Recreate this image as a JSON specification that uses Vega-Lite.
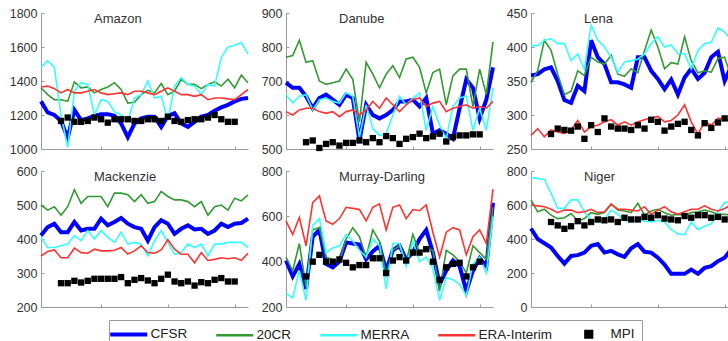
{
"$schema": "https://vega.github.io/schema/vega-lite/v6.json",
"padding": {"left": 9, "top": 7, "right": 0, "bottom": 0},
"background": "white",
"datasets": {"d": [
{"b":"Amazon","t":1981,"CFSR":1280,"20CR":1360,"MERRA":1480,"ERA-Interim":1365},
{"b":"Amazon","t":1982,"CFSR":1215,"20CR":1320,"MERRA":1520,"ERA-Interim":1370},
{"b":"Amazon","t":1983,"CFSR":1200,"20CR":1290,"MERRA":1480,"ERA-Interim":1355},
{"b":"Amazon","t":1984,"CFSR":1165,"20CR":1290,"MERRA":1200,"ERA-Interim":1330,"MPI":1165},
{"b":"Amazon","t":1985,"CFSR":1065,"20CR":1280,"MERRA":1010,"ERA-Interim":1350,"MPI":1185},
{"b":"Amazon","t":1986,"CFSR":1230,"20CR":1395,"MERRA":1340,"ERA-Interim":1330,"MPI":1160},
{"b":"Amazon","t":1987,"CFSR":1170,"20CR":1360,"MERRA":1390,"ERA-Interim":1330,"MPI":1160},
{"b":"Amazon","t":1988,"CFSR":1180,"20CR":1365,"MERRA":1380,"ERA-Interim":1340,"MPI":1165},
{"b":"Amazon","t":1989,"CFSR":1195,"20CR":1330,"MERRA":1200,"ERA-Interim":1350,"MPI":1185},
{"b":"Amazon","t":1990,"CFSR":1205,"20CR":1350,"MERRA":1290,"ERA-Interim":1330,"MPI":1175},
{"b":"Amazon","t":1991,"CFSR":1205,"20CR":1365,"MERRA":1280,"ERA-Interim":1320,"MPI":1155},
{"b":"Amazon","t":1992,"CFSR":1195,"20CR":1390,"MERRA":1220,"ERA-Interim":1325,"MPI":1175},
{"b":"Amazon","t":1993,"CFSR":1150,"20CR":1350,"MERRA":1200,"ERA-Interim":1330,"MPI":1175},
{"b":"Amazon","t":1994,"CFSR":1070,"20CR":1270,"MERRA":1160,"ERA-Interim":1320,"MPI":1175},
{"b":"Amazon","t":1995,"CFSR":1150,"20CR":1275,"MERRA":1300,"ERA-Interim":1340,"MPI":1165},
{"b":"Amazon","t":1996,"CFSR":1180,"20CR":1320,"MERRA":1320,"ERA-Interim":1340,"MPI":1165},
{"b":"Amazon","t":1997,"CFSR":1190,"20CR":1345,"MERRA":1400,"ERA-Interim":1330,"MPI":1175},
{"b":"Amazon","t":1998,"CFSR":1190,"20CR":1330,"MERRA":1300,"ERA-Interim":1320,"MPI":1175},
{"b":"Amazon","t":1999,"CFSR":1130,"20CR":1385,"MERRA":1310,"ERA-Interim":1340,"MPI":1165},
{"b":"Amazon","t":2000,"CFSR":1195,"20CR":1320,"MERRA":1170,"ERA-Interim":1360,"MPI":1190},
{"b":"Amazon","t":2001,"CFSR":1210,"20CR":1340,"MERRA":1370,"ERA-Interim":1340,"MPI":1165},
{"b":"Amazon","t":2002,"CFSR":1150,"20CR":1410,"MERRA":1420,"ERA-Interim":1320,"MPI":1160},
{"b":"Amazon","t":2003,"CFSR":1130,"20CR":1380,"MERRA":1380,"ERA-Interim":1320,"MPI":1170},
{"b":"Amazon","t":2004,"CFSR":1160,"20CR":1380,"MERRA":1370,"ERA-Interim":1310,"MPI":1175},
{"b":"Amazon","t":2005,"CFSR":1190,"20CR":1355,"MERRA":1320,"ERA-Interim":1320,"MPI":1175},
{"b":"Amazon","t":2006,"CFSR":1200,"20CR":1380,"MERRA":1380,"ERA-Interim":1290,"MPI":1185},
{"b":"Amazon","t":2007,"CFSR":1225,"20CR":1395,"MERRA":1370,"ERA-Interim":1300,"MPI":1200},
{"b":"Amazon","t":2008,"CFSR":1245,"20CR":1370,"MERRA":1540,"ERA-Interim":1300,"MPI":1175},
{"b":"Amazon","t":2009,"CFSR":1260,"20CR":1410,"MERRA":1600,"ERA-Interim":1295,"MPI":1160},
{"b":"Amazon","t":2010,"CFSR":1280,"20CR":1360,"MERRA":1610,"ERA-Interim":1290,"MPI":1160},
{"b":"Amazon","t":2011,"CFSR":1295,"20CR":1435,"MERRA":1625,"ERA-Interim":1320},
{"b":"Amazon","t":2012,"CFSR":1300,"20CR":1390,"MERRA":1560,"ERA-Interim":1350},
{"b":"Danube","t":1981,"CFSR":695,"20CR":770,"MERRA":660,"ERA-Interim":610},
{"b":"Danube","t":1982,"CFSR":680,"20CR":775,"MERRA":635,"ERA-Interim":600},
{"b":"Danube","t":1983,"CFSR":680,"20CR":820,"MERRA":655,"ERA-Interim":615},
{"b":"Danube","t":1984,"CFSR":655,"20CR":755,"MERRA":660,"ERA-Interim":620,"MPI":520},
{"b":"Danube","t":1985,"CFSR":620,"20CR":760,"MERRA":615,"ERA-Interim":620,"MPI":525},
{"b":"Danube","t":1986,"CFSR":650,"20CR":700,"MERRA":645,"ERA-Interim":610,"MPI":503},
{"b":"Danube","t":1987,"CFSR":660,"20CR":690,"MERRA":650,"ERA-Interim":605,"MPI":515},
{"b":"Danube","t":1988,"CFSR":645,"20CR":695,"MERRA":640,"ERA-Interim":610,"MPI":520},
{"b":"Danube","t":1989,"CFSR":630,"20CR":700,"MERRA":635,"ERA-Interim":595,"MPI":510},
{"b":"Danube","t":1990,"CFSR":660,"20CR":735,"MERRA":665,"ERA-Interim":610,"MPI":518},
{"b":"Danube","t":1991,"CFSR":650,"20CR":705,"MERRA":655,"ERA-Interim":615,"MPI":518},
{"b":"Danube","t":1992,"CFSR":525,"20CR":580,"MERRA":535,"ERA-Interim":600,"MPI":525},
{"b":"Danube","t":1993,"CFSR":630,"20CR":755,"MERRA":630,"ERA-Interim":615,"MPI":520},
{"b":"Danube","t":1994,"CFSR":600,"20CR":720,"MERRA":560,"ERA-Interim":640,"MPI":532},
{"b":"Danube","t":1995,"CFSR":590,"20CR":680,"MERRA":540,"ERA-Interim":620,"MPI":520},
{"b":"Danube","t":1996,"CFSR":600,"20CR":720,"MERRA":545,"ERA-Interim":650,"MPI":538},
{"b":"Danube","t":1997,"CFSR":615,"20CR":745,"MERRA":600,"ERA-Interim":630,"MPI":532},
{"b":"Danube","t":1998,"CFSR":640,"20CR":710,"MERRA":655,"ERA-Interim":610,"MPI":515},
{"b":"Danube","t":1999,"CFSR":640,"20CR":765,"MERRA":630,"ERA-Interim":630,"MPI":530},
{"b":"Danube","t":2000,"CFSR":645,"20CR":770,"MERRA":650,"ERA-Interim":645,"MPI":535},
{"b":"Danube","t":2001,"CFSR":625,"20CR":740,"MERRA":665,"ERA-Interim":650,"MPI":545},
{"b":"Danube","t":2002,"CFSR":650,"20CR":665,"MERRA":555,"ERA-Interim":625,"MPI":532},
{"b":"Danube","t":2003,"CFSR":545,"20CR":725,"MERRA":625,"ERA-Interim":635,"MPI":537},
{"b":"Danube","t":2004,"CFSR":555,"20CR":735,"MERRA":570,"ERA-Interim":640,"MPI":545},
{"b":"Danube","t":2005,"CFSR":545,"20CR":630,"MERRA":530,"ERA-Interim":610,"MPI":522},
{"b":"Danube","t":2006,"CFSR":530,"20CR":715,"MERRA":625,"ERA-Interim":620,"MPI":535},
{"b":"Danube","t":2007,"CFSR":620,"20CR":735,"MERRA":650,"ERA-Interim":625,"MPI":540},
{"b":"Danube","t":2008,"CFSR":705,"20CR":735,"MERRA":655,"ERA-Interim":630,"MPI":540},
{"b":"Danube","t":2009,"CFSR":680,"20CR":625,"MERRA":555,"ERA-Interim":620,"MPI":543},
{"b":"Danube","t":2010,"CFSR":590,"20CR":735,"MERRA":620,"ERA-Interim":625,"MPI":543},
{"b":"Danube","t":2011,"CFSR":645,"20CR":660,"MERRA":555,"ERA-Interim":620},
{"b":"Danube","t":2012,"CFSR":740,"20CR":815,"MERRA":680,"ERA-Interim":640},
{"b":"Lena","t":1981,"CFSR":358,"20CR":348,"MERRA":402,"ERA-Interim":270},
{"b":"Lena","t":1982,"CFSR":360,"20CR":365,"MERRA":402,"ERA-Interim":280},
{"b":"Lena","t":1983,"CFSR":367,"20CR":410,"MERRA":410,"ERA-Interim":268},
{"b":"Lena","t":1984,"CFSR":370,"20CR":395,"MERRA":412,"ERA-Interim":278,"MPI":272},
{"b":"Lena","t":1985,"CFSR":350,"20CR":360,"MERRA":405,"ERA-Interim":275,"MPI":280},
{"b":"Lena","t":1986,"CFSR":322,"20CR":330,"MERRA":405,"ERA-Interim":273,"MPI":278},
{"b":"Lena","t":1987,"CFSR":318,"20CR":335,"MERRA":380,"ERA-Interim":278,"MPI":277},
{"b":"Lena","t":1988,"CFSR":343,"20CR":365,"MERRA":390,"ERA-Interim":292,"MPI":283},
{"b":"Lena","t":1989,"CFSR":335,"20CR":358,"MERRA":367,"ERA-Interim":275,"MPI":265},
{"b":"Lena","t":1990,"CFSR":410,"20CR":385,"MERRA":432,"ERA-Interim":283,"MPI":285},
{"b":"Lena","t":1991,"CFSR":385,"20CR":378,"MERRA":410,"ERA-Interim":285,"MPI":275},
{"b":"Lena","t":1992,"CFSR":375,"20CR":375,"MERRA":400,"ERA-Interim":290,"MPI":295},
{"b":"Lena","t":1993,"CFSR":348,"20CR":388,"MERRA":385,"ERA-Interim":293,"MPI":283},
{"b":"Lena","t":1994,"CFSR":348,"20CR":360,"MERRA":363,"ERA-Interim":285,"MPI":280},
{"b":"Lena","t":1995,"CFSR":345,"20CR":357,"MERRA":378,"ERA-Interim":290,"MPI":280},
{"b":"Lena","t":1996,"CFSR":340,"20CR":368,"MERRA":380,"ERA-Interim":285,"MPI":278},
{"b":"Lena","t":1997,"CFSR":385,"20CR":362,"MERRA":382,"ERA-Interim":290,"MPI":285},
{"b":"Lena","t":1998,"CFSR":385,"20CR":395,"MERRA":390,"ERA-Interim":293,"MPI":280},
{"b":"Lena","t":1999,"CFSR":365,"20CR":425,"MERRA":405,"ERA-Interim":296,"MPI":293},
{"b":"Lena","t":2000,"CFSR":353,"20CR":400,"MERRA":415,"ERA-Interim":298,"MPI":290},
{"b":"Lena","t":2001,"CFSR":338,"20CR":368,"MERRA":400,"ERA-Interim":290,"MPI":277},
{"b":"Lena","t":2002,"CFSR":352,"20CR":377,"MERRA":403,"ERA-Interim":292,"MPI":283},
{"b":"Lena","t":2003,"CFSR":330,"20CR":375,"MERRA":390,"ERA-Interim":300,"MPI":287},
{"b":"Lena","t":2004,"CFSR":355,"20CR":415,"MERRA":390,"ERA-Interim":315,"MPI":290},
{"b":"Lena","t":2005,"CFSR":368,"20CR":380,"MERRA":368,"ERA-Interim":290,"MPI":278},
{"b":"Lena","t":2006,"CFSR":353,"20CR":362,"MERRA":395,"ERA-Interim":272,"MPI":270},
{"b":"Lena","t":2007,"CFSR":362,"20CR":365,"MERRA":405,"ERA-Interim":290,"MPI":288},
{"b":"Lena","t":2008,"CFSR":385,"20CR":363,"MERRA":407,"ERA-Interim":285,"MPI":281},
{"b":"Lena","t":2009,"CFSR":393,"20CR":383,"MERRA":428,"ERA-Interim":295,"MPI":289},
{"b":"Lena","t":2010,"CFSR":350,"20CR":385,"MERRA":422,"ERA-Interim":295,"MPI":295},
{"b":"Lena","t":2011,"CFSR":372,"20CR":355,"MERRA":410,"ERA-Interim":288},
{"b":"Lena","t":2012,"CFSR":370,"20CR":358,"MERRA":385,"ERA-Interim":293},
{"b":"Mackenzie","t":1981,"CFSR":410,"20CR":500,"MERRA":405,"ERA-Interim":350},
{"b":"Mackenzie","t":1982,"CFSR":435,"20CR":485,"MERRA":375,"ERA-Interim":363},
{"b":"Mackenzie","t":1983,"CFSR":445,"20CR":495,"MERRA":375,"ERA-Interim":368},
{"b":"Mackenzie","t":1984,"CFSR":420,"20CR":470,"MERRA":380,"ERA-Interim":345,"MPI":270},
{"b":"Mackenzie","t":1985,"CFSR":420,"20CR":495,"MERRA":385,"ERA-Interim":345,"MPI":270},
{"b":"Mackenzie","t":1986,"CFSR":450,"20CR":545,"MERRA":410,"ERA-Interim":373,"MPI":277},
{"b":"Mackenzie","t":1987,"CFSR":425,"20CR":505,"MERRA":395,"ERA-Interim":360,"MPI":272},
{"b":"Mackenzie","t":1988,"CFSR":430,"20CR":525,"MERRA":425,"ERA-Interim":358,"MPI":277},
{"b":"Mackenzie","t":1989,"CFSR":430,"20CR":525,"MERRA":400,"ERA-Interim":370,"MPI":283},
{"b":"Mackenzie","t":1990,"CFSR":460,"20CR":525,"MERRA":425,"ERA-Interim":365,"MPI":283},
{"b":"Mackenzie","t":1991,"CFSR":440,"20CR":495,"MERRA":405,"ERA-Interim":365,"MPI":283},
{"b":"Mackenzie","t":1992,"CFSR":450,"20CR":535,"MERRA":390,"ERA-Interim":367,"MPI":283},
{"b":"Mackenzie","t":1993,"CFSR":462,"20CR":535,"MERRA":420,"ERA-Interim":375,"MPI":288},
{"b":"Mackenzie","t":1994,"CFSR":445,"20CR":530,"MERRA":385,"ERA-Interim":356,"MPI":270},
{"b":"Mackenzie","t":1995,"CFSR":435,"20CR":510,"MERRA":390,"ERA-Interim":365,"MPI":280},
{"b":"Mackenzie","t":1996,"CFSR":430,"20CR":530,"MERRA":385,"ERA-Interim":380,"MPI":285},
{"b":"Mackenzie","t":1997,"CFSR":395,"20CR":505,"MERRA":350,"ERA-Interim":360,"MPI":278},
{"b":"Mackenzie","t":1998,"CFSR":435,"20CR":510,"MERRA":395,"ERA-Interim":358,"MPI":270},
{"b":"Mackenzie","t":1999,"CFSR":455,"20CR":540,"MERRA":425,"ERA-Interim":368,"MPI":283},
{"b":"Mackenzie","t":2000,"CFSR":445,"20CR":525,"MERRA":390,"ERA-Interim":398,"MPI":295},
{"b":"Mackenzie","t":2001,"CFSR":415,"20CR":515,"MERRA":355,"ERA-Interim":370,"MPI":275},
{"b":"Mackenzie","t":2002,"CFSR":430,"20CR":515,"MERRA":360,"ERA-Interim":355,"MPI":270},
{"b":"Mackenzie","t":2003,"CFSR":440,"20CR":510,"MERRA":385,"ERA-Interim":355,"MPI":275},
{"b":"Mackenzie","t":2004,"CFSR":428,"20CR":495,"MERRA":375,"ERA-Interim":330,"MPI":263},
{"b":"Mackenzie","t":2005,"CFSR":430,"20CR":510,"MERRA":385,"ERA-Interim":360,"MPI":273},
{"b":"Mackenzie","t":2006,"CFSR":415,"20CR":470,"MERRA":350,"ERA-Interim":337,"MPI":270},
{"b":"Mackenzie","t":2007,"CFSR":425,"20CR":495,"MERRA":385,"ERA-Interim":340,"MPI":280},
{"b":"Mackenzie","t":2008,"CFSR":445,"20CR":500,"MERRA":385,"ERA-Interim":345,"MPI":285},
{"b":"Mackenzie","t":2009,"CFSR":435,"20CR":485,"MERRA":390,"ERA-Interim":342,"MPI":275},
{"b":"Mackenzie","t":2010,"CFSR":445,"20CR":520,"MERRA":390,"ERA-Interim":345,"MPI":275},
{"b":"Mackenzie","t":2011,"CFSR":447,"20CR":512,"MERRA":390,"ERA-Interim":337},
{"b":"Mackenzie","t":2012,"CFSR":460,"20CR":530,"MERRA":375,"ERA-Interim":358},
{"b":"Murray-Darling","t":1981,"CFSR":405,"20CR":420,"MERRA":260,"ERA-Interim":580},
{"b":"Murray-Darling","t":1982,"CFSR":335,"20CR":360,"MERRA":240,"ERA-Interim":520},
{"b":"Murray-Darling","t":1983,"CFSR":390,"20CR":480,"MERRA":360,"ERA-Interim":595},
{"b":"Murray-Darling","t":1984,"CFSR":280,"20CR":290,"MERRA":230,"ERA-Interim":470,"MPI":335},
{"b":"Murray-Darling","t":1985,"CFSR":510,"20CR":540,"MERRA":560,"ERA-Interim":660,"MPI":400},
{"b":"Murray-Darling","t":1986,"CFSR":540,"20CR":550,"MERRA":590,"ERA-Interim":690,"MPI":430},
{"b":"Murray-Darling","t":1987,"CFSR":390,"20CR":420,"MERRA":440,"ERA-Interim":580,"MPI":400},
{"b":"Murray-Darling","t":1988,"CFSR":375,"20CR":410,"MERRA":460,"ERA-Interim":565,"MPI":400},
{"b":"Murray-Darling","t":1989,"CFSR":400,"20CR":400,"MERRA":470,"ERA-Interim":590,"MPI":410},
{"b":"Murray-Darling","t":1990,"CFSR":485,"20CR":500,"MERRA":520,"ERA-Interim":640,"MPI":395},
{"b":"Murray-Darling","t":1991,"CFSR":480,"20CR":550,"MERRA":490,"ERA-Interim":635,"MPI":375},
{"b":"Murray-Darling","t":1992,"CFSR":475,"20CR":510,"MERRA":450,"ERA-Interim":630,"MPI":385},
{"b":"Murray-Darling","t":1993,"CFSR":410,"20CR":420,"MERRA":420,"ERA-Interim":580,"MPI":385},
{"b":"Murray-Darling","t":1994,"CFSR":445,"20CR":540,"MERRA":500,"ERA-Interim":640,"MPI":415},
{"b":"Murray-Darling","t":1995,"CFSR":470,"20CR":490,"MERRA":470,"ERA-Interim":655,"MPI":415},
{"b":"Murray-Darling","t":1996,"CFSR":360,"20CR":340,"MERRA":280,"ERA-Interim":540,"MPI":350},
{"b":"Murray-Darling","t":1997,"CFSR":450,"20CR":450,"MERRA":480,"ERA-Interim":640,"MPI":405},
{"b":"Murray-Darling","t":1998,"CFSR":470,"20CR":470,"MERRA":480,"ERA-Interim":650,"MPI":420},
{"b":"Murray-Darling","t":1999,"CFSR":410,"20CR":400,"MERRA":380,"ERA-Interim":590,"MPI":405},
{"b":"Murray-Darling","t":2000,"CFSR":440,"20CR":520,"MERRA":490,"ERA-Interim":630,"MPI":440},
{"b":"Murray-Darling","t":2001,"CFSR":500,"20CR":440,"MERRA":400,"ERA-Interim":625,"MPI":440},
{"b":"Murray-Darling","t":2002,"CFSR":540,"20CR":460,"MERRA":420,"ERA-Interim":650,"MPI":455},
{"b":"Murray-Darling","t":2003,"CFSR":440,"20CR":450,"MERRA":370,"ERA-Interim":530,"MPI":400},
{"b":"Murray-Darling","t":2004,"CFSR":300,"20CR":270,"MERRA":230,"ERA-Interim":420,"MPI":320},
{"b":"Murray-Darling","t":2005,"CFSR":360,"20CR":450,"MERRA":330,"ERA-Interim":530,"MPI":375},
{"b":"Murray-Darling","t":2006,"CFSR":405,"20CR":430,"MERRA":320,"ERA-Interim":550,"MPI":390},
{"b":"Murray-Darling","t":2007,"CFSR":380,"20CR":400,"MERRA":300,"ERA-Interim":540,"MPI":395},
{"b":"Murray-Darling","t":2008,"CFSR":270,"20CR":350,"MERRA":250,"ERA-Interim":430,"MPI":335},
{"b":"Murray-Darling","t":2009,"CFSR":360,"20CR":470,"MERRA":390,"ERA-Interim":510,"MPI":375},
{"b":"Murray-Darling","t":2010,"CFSR":415,"20CR":440,"MERRA":420,"ERA-Interim":540,"MPI":400},
{"b":"Murray-Darling","t":2011,"CFSR":380,"20CR":410,"MERRA":350,"ERA-Interim":480},
{"b":"Murray-Darling","t":2012,"CFSR":660,"20CR":640,"MERRA":600,"ERA-Interim":720},
{"b":"Niger","t":1981,"CFSR":462,"20CR":630,"MERRA":760,"ERA-Interim":600},
{"b":"Niger","t":1982,"CFSR":400,"20CR":560,"MERRA":755,"ERA-Interim":595},
{"b":"Niger","t":1983,"CFSR":375,"20CR":575,"MERRA":750,"ERA-Interim":590},
{"b":"Niger","t":1984,"CFSR":350,"20CR":540,"MERRA":670,"ERA-Interim":575,"MPI":500},
{"b":"Niger","t":1985,"CFSR":300,"20CR":520,"MERRA":580,"ERA-Interim":555,"MPI":480},
{"b":"Niger","t":1986,"CFSR":255,"20CR":525,"MERRA":580,"ERA-Interim":570,"MPI":460},
{"b":"Niger","t":1987,"CFSR":300,"20CR":550,"MERRA":630,"ERA-Interim":570,"MPI":475},
{"b":"Niger","t":1988,"CFSR":305,"20CR":505,"MERRA":630,"ERA-Interim":555,"MPI":505},
{"b":"Niger","t":1989,"CFSR":320,"20CR":520,"MERRA":560,"ERA-Interim":560,"MPI":480},
{"b":"Niger","t":1990,"CFSR":360,"20CR":555,"MERRA":510,"ERA-Interim":575,"MPI":500},
{"b":"Niger","t":1991,"CFSR":370,"20CR":545,"MERRA":500,"ERA-Interim":555,"MPI":515},
{"b":"Niger","t":1992,"CFSR":320,"20CR":555,"MERRA":510,"ERA-Interim":560,"MPI":510},
{"b":"Niger","t":1993,"CFSR":330,"20CR":605,"MERRA":570,"ERA-Interim":605,"MPI":515},
{"b":"Niger","t":1994,"CFSR":310,"20CR":570,"MERRA":545,"ERA-Interim":575,"MPI":500},
{"b":"Niger","t":1995,"CFSR":295,"20CR":565,"MERRA":510,"ERA-Interim":575,"MPI":525},
{"b":"Niger","t":1996,"CFSR":345,"20CR":555,"MERRA":500,"ERA-Interim":570,"MPI":515},
{"b":"Niger","t":1997,"CFSR":370,"20CR":610,"MERRA":510,"ERA-Interim":565,"MPI":515},
{"b":"Niger","t":1998,"CFSR":325,"20CR":540,"MERRA":505,"ERA-Interim":590,"MPI":530},
{"b":"Niger","t":1999,"CFSR":320,"20CR":565,"MERRA":500,"ERA-Interim":545,"MPI":525},
{"b":"Niger","t":2000,"CFSR":290,"20CR":575,"MERRA":510,"ERA-Interim":570,"MPI":540},
{"b":"Niger","t":2001,"CFSR":250,"20CR":555,"MERRA":500,"ERA-Interim":590,"MPI":520},
{"b":"Niger","t":2002,"CFSR":195,"20CR":540,"MERRA":455,"ERA-Interim":560,"MPI":515},
{"b":"Niger","t":2003,"CFSR":195,"20CR":545,"MERRA":430,"ERA-Interim":545,"MPI":510},
{"b":"Niger","t":2004,"CFSR":195,"20CR":540,"MERRA":425,"ERA-Interim":560,"MPI":535},
{"b":"Niger","t":2005,"CFSR":220,"20CR":555,"MERRA":500,"ERA-Interim":575,"MPI":525},
{"b":"Niger","t":2006,"CFSR":195,"20CR":560,"MERRA":455,"ERA-Interim":575,"MPI":540},
{"b":"Niger","t":2007,"CFSR":230,"20CR":570,"MERRA":475,"ERA-Interim":595,"MPI":540},
{"b":"Niger","t":2008,"CFSR":240,"20CR":560,"MERRA":490,"ERA-Interim":575,"MPI":525},
{"b":"Niger","t":2009,"CFSR":270,"20CR":545,"MERRA":560,"ERA-Interim":565,"MPI":530},
{"b":"Niger","t":2010,"CFSR":290,"20CR":545,"MERRA":615,"ERA-Interim":580,"MPI":515},
{"b":"Niger","t":2011,"CFSR":340,"20CR":540,"MERRA":620,"ERA-Interim":600},
{"b":"Niger","t":2012,"CFSR":400,"20CR":570,"MERRA":650,"ERA-Interim":620}
]},
"data": {"name": "d"},
"transform": [{"fold": ["CFSR", "20CR", "MERRA", "ERA-Interim", "MPI"], "as": ["src", "v"]}, {"filter": "isValid(datum.v)"}],
"columns": 3,
"spacing": {"row": 9, "column": 5},
"concat": [
{"width": 207, "height": 136, "title": {"text": "Amazon"},
 "transform": [{"filter": "datum.b === 'Amazon'"}],
 "encoding": {
  "x": {"field": "t", "type": "quantitative", "scale": {"domain": [1981, 2012], "nice": false, "zero": false}, "axis": {"values": [1990, 2000, 2010], "labels": false, "title": null}},
  "y": {"field": "v", "type": "quantitative", "scale": {"domain": [1000, 1800], "nice": false, "zero": false}, "axis": {"values": [1000, 1200, 1400, 1600, 1800], "format": "d", "title": null}},
  "color": {"field": "src", "type": "nominal", "scale": {"domain": ["CFSR", "20CR", "MERRA", "ERA-Interim", "MPI"], "range": ["#0000ff", "#339933", "#33ffff", "#ff3333", "#000000"]},
   "legend": {"title": null, "orient": "none", "legendX": 68, "legendY": 307, "direction": "horizontal", "symbolType": "stroke", "symbolSize": 1369, "symbolStrokeWidth": 2.5, "symbolOffset": 6, "labelFont": "Liberation Sans", "labelFontSize": 13.5, "labelColor": "#222222", "labelOffset": 15, "columnPadding": 23, "padding": 7, "strokeColor": "#9a9a9a", "fillColor": "white",
    "encode": {"symbols": {"update": {"shape": {"signal": "datum.value === 'MPI' ? 'M-0.18,-0.18H0.18V0.18H-0.18Z' : 'stroke'"}, "strokeWidth": {"signal": "datum.value === 'CFSR' ? 4 : 2.5"}, "fill": {"signal": "datum.value === 'MPI' ? '#000000' : 'transparent'"}}}}}}
 },
 "layer": [
  {"transform": [{"filter": "datum.src !== 'MPI'"}], "mark": {"type": "line"}, "encoding": {"strokeWidth": {"condition": {"test": "datum.src === 'CFSR'", "value": 4}, "value": 1.6}}},
  {"transform": [{"filter": "datum.src === 'MPI'"}], "mark": {"type": "square", "filled": true, "size": 40, "opacity": 1}}
 ]},
{"width": 207, "height": 136, "title": {"text": "Danube"},
 "transform": [{"filter": "datum.b === 'Danube'"}],
 "encoding": {
  "x": {"field": "t", "type": "quantitative", "scale": {"domain": [1981, 2012], "nice": false, "zero": false}, "axis": {"values": [1990, 2000, 2010], "labels": false, "title": null}},
  "y": {"field": "v", "type": "quantitative", "scale": {"domain": [500, 900], "nice": false, "zero": false}, "axis": {"values": [500, 600, 700, 800, 900], "format": "d", "title": null}},
  "color": {"field": "src", "type": "nominal", "scale": {"domain": ["CFSR", "20CR", "MERRA", "ERA-Interim", "MPI"], "range": ["#0000ff", "#339933", "#33ffff", "#ff3333", "#000000"]}}
 },
 "layer": [
  {"transform": [{"filter": "datum.src !== 'MPI'"}], "mark": {"type": "line"}, "encoding": {"strokeWidth": {"condition": {"test": "datum.src === 'CFSR'", "value": 4}, "value": 1.6}}},
  {"transform": [{"filter": "datum.src === 'MPI'"}], "mark": {"type": "square", "filled": true, "size": 40, "opacity": 1}}
 ]},
{"width": 207, "height": 136, "title": {"text": "Lena"},
 "transform": [{"filter": "datum.b === 'Lena'"}],
 "encoding": {
  "x": {"field": "t", "type": "quantitative", "scale": {"domain": [1981, 2012], "nice": false, "zero": false}, "axis": {"values": [1990, 2000, 2010], "labels": false, "title": null}},
  "y": {"field": "v", "type": "quantitative", "scale": {"domain": [250, 450], "nice": false, "zero": false}, "axis": {"values": [250, 300, 350, 400, 450], "format": "d", "title": null}},
  "color": {"field": "src", "type": "nominal", "scale": {"domain": ["CFSR", "20CR", "MERRA", "ERA-Interim", "MPI"], "range": ["#0000ff", "#339933", "#33ffff", "#ff3333", "#000000"]}}
 },
 "layer": [
  {"transform": [{"filter": "datum.src !== 'MPI'"}], "mark": {"type": "line"}, "encoding": {"strokeWidth": {"condition": {"test": "datum.src === 'CFSR'", "value": 4}, "value": 1.6}}},
  {"transform": [{"filter": "datum.src === 'MPI'"}], "mark": {"type": "square", "filled": true, "size": 40, "opacity": 1}}
 ]},
{"width": 207, "height": 136, "title": {"text": "Mackenzie"},
 "transform": [{"filter": "datum.b === 'Mackenzie'"}],
 "encoding": {
  "x": {"field": "t", "type": "quantitative", "scale": {"domain": [1981, 2012], "nice": false, "zero": false}, "axis": {"values": [1990, 2000, 2010], "labels": false, "title": null}},
  "y": {"field": "v", "type": "quantitative", "scale": {"domain": [200, 600], "nice": false, "zero": false}, "axis": {"values": [200, 300, 400, 500, 600], "format": "d", "title": null}},
  "color": {"field": "src", "type": "nominal", "scale": {"domain": ["CFSR", "20CR", "MERRA", "ERA-Interim", "MPI"], "range": ["#0000ff", "#339933", "#33ffff", "#ff3333", "#000000"]}}
 },
 "layer": [
  {"transform": [{"filter": "datum.src !== 'MPI'"}], "mark": {"type": "line"}, "encoding": {"strokeWidth": {"condition": {"test": "datum.src === 'CFSR'", "value": 4}, "value": 1.6}}},
  {"transform": [{"filter": "datum.src === 'MPI'"}], "mark": {"type": "square", "filled": true, "size": 40, "opacity": 1}}
 ]},
{"width": 207, "height": 136, "title": {"text": "Murray-Darling"},
 "transform": [{"filter": "datum.b === 'Murray-Darling'"}],
 "encoding": {
  "x": {"field": "t", "type": "quantitative", "scale": {"domain": [1981, 2012], "nice": false, "zero": false}, "axis": {"values": [1990, 2000, 2010], "labels": false, "title": null}},
  "y": {"field": "v", "type": "quantitative", "scale": {"domain": [200, 800], "nice": false, "zero": false}, "axis": {"values": [200, 400, 600, 800], "format": "d", "title": null}},
  "color": {"field": "src", "type": "nominal", "scale": {"domain": ["CFSR", "20CR", "MERRA", "ERA-Interim", "MPI"], "range": ["#0000ff", "#339933", "#33ffff", "#ff3333", "#000000"]}}
 },
 "layer": [
  {"transform": [{"filter": "datum.src !== 'MPI'"}], "mark": {"type": "line"}, "encoding": {"strokeWidth": {"condition": {"test": "datum.src === 'CFSR'", "value": 4}, "value": 1.6}}},
  {"transform": [{"filter": "datum.src === 'MPI'"}], "mark": {"type": "square", "filled": true, "size": 40, "opacity": 1}}
 ]},
{"width": 207, "height": 136, "title": {"text": "Niger"},
 "transform": [{"filter": "datum.b === 'Niger'"}],
 "encoding": {
  "x": {"field": "t", "type": "quantitative", "scale": {"domain": [1981, 2012], "nice": false, "zero": false}, "axis": {"values": [1990, 2000, 2010], "labels": false, "title": null}},
  "y": {"field": "v", "type": "quantitative", "scale": {"domain": [0, 800], "nice": false, "zero": false}, "axis": {"values": [0, 200, 400, 600, 800], "format": "d", "title": null}},
  "color": {"field": "src", "type": "nominal", "scale": {"domain": ["CFSR", "20CR", "MERRA", "ERA-Interim", "MPI"], "range": ["#0000ff", "#339933", "#33ffff", "#ff3333", "#000000"]}}
 },
 "layer": [
  {"transform": [{"filter": "datum.src !== 'MPI'"}], "mark": {"type": "line"}, "encoding": {"strokeWidth": {"condition": {"test": "datum.src === 'CFSR'", "value": 4}, "value": 1.6}}},
  {"transform": [{"filter": "datum.src === 'MPI'"}], "mark": {"type": "square", "filled": true, "size": 40, "opacity": 1}}
 ]}
],
"config": {
 "view": {"stroke": null},
 "font": "Liberation Sans",
 "axis": {"domainColor": "#9a9a9a", "tickColor": "#9a9a9a", "tickSize": -3, "labelPadding": 7, "labelFont": "Liberation Sans", "labelFontSize": 12.5, "labelColor": "#333333", "grid": false, "domainWidth": 1},
 "title": {"anchor": "start", "frame": "group", "offset": -19, "dx": 53, "fontSize": 13, "fontWeight": "normal", "font": "Liberation Sans", "color": "#333333", "baseline": "alphabetic"}
}
}
